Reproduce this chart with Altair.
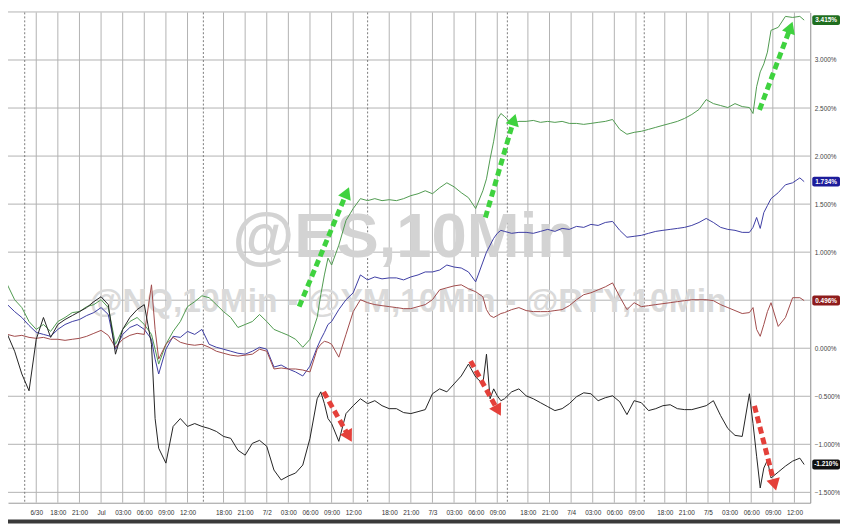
import math
import json
import altair as alt
import pandas as pd

# ---- data (hours of trading since the 6/30 label, % change) ----
hours = [-4, -3, -2, -1, 0, 1, 2, 3, 4, 5,
         6, 7, 8, 9, 10, 11, 12, 13, 14, 15,
         16, 16.5, 17, 18, 19, 20, 21, 22, 23, 24,
         25, 26, 27, 28, 29, 30, 31, 32, 33, 34,
         35, 36, 37, 38, 39, 39.5, 40, 40.5, 41, 42,
         43, 44, 45, 46, 47, 48, 49, 50, 51, 52,
         53, 54, 55, 56, 57, 58, 59, 60, 61, 62,
         62.5, 63, 63.5, 64, 64.5, 65, 66, 67, 68, 69,
         70, 71, 72, 73, 74, 75, 76, 77, 78, 79,
         80, 81, 82, 83, 84, 85, 86, 87, 88, 89,
         90, 91, 92, 93, 94, 95, 96, 97, 98, 99,
         99.5, 100, 100.5, 101, 101.5, 102, 103, 104, 105, 106,
         106.6]

nq = [0.66, 0.505, 0.423, 0.278, 0.196, 0.247, 0.175, 0.278, 0.32, 0.371,
      0.381, 0.433, 0.454, 0.505, 0.423, 0.041, 0.196, 0.278, 0.32, 0.247,
      0.144, -0.01, -0.165, 0.041, 0.175, 0.278, 0.433, 0.485, 0.546, 0.526,
      0.454, 0.381, 0.32, 0.216, 0.247, 0.278, 0.351, 0.278, 0.196, 0.165,
      0.134, 0.093, 0.01, 0.093, 0.32, 0.557, 0.763, 0.938, 0.866, 1.072,
      1.33, 1.454, 1.557, 1.536, 1.557, 1.536, 1.546, 1.536, 1.557, 1.588,
      1.608, 1.639, 1.608, 1.67, 1.722, 1.68, 1.619, 1.567, 1.454, 1.639,
      1.763, 1.969, 2.155, 2.381, 2.443, 2.412, 2.34, 2.361, 2.361, 2.371,
      2.351, 2.361, 2.351, 2.361, 2.34, 2.34, 2.33, 2.34, 2.351, 2.361,
      2.381, 2.278, 2.227, 2.247, 2.258, 2.278, 2.299, 2.32, 2.34, 2.361,
      2.392, 2.433, 2.485, 2.588, 2.546, 2.526, 2.505, 2.546, 2.515, 2.505,
      2.443, 2.722, 2.876, 2.959, 3.082, 3.309, 3.34, 3.454, 3.443, 3.454,
      3.415]

es = [0.454, 0.381, 0.32, 0.237, 0.165, 0.144, 0.124, 0.196, 0.247, 0.278,
      0.299, 0.34, 0.371, 0.423, 0.351, -0.01, 0.144, 0.216, 0.247, 0.196,
      0.093, -0.113, -0.268, -0.01, 0.124, 0.113, 0.175, 0.144, 0.196, 0.041,
      0.01, -0.01, -0.031, -0.052, -0.062, -0.031, 0.01, -0.01, -0.196, -0.175,
      -0.216, -0.247, -0.289, -0.186, 0.01, 0.093, 0.165, 0.247, 0.278, 0.402,
      0.505, 0.577, 0.763, 0.711, 0.742, 0.722, 0.732, 0.732, 0.711, 0.742,
      0.763, 0.794, 0.794, 0.814, 0.866, 0.845, 0.835, 0.794, 0.691, 0.897,
      1.0, 1.072, 1.144, 1.196, 1.227, 1.216, 1.196, 1.206, 1.206, 1.196,
      1.216, 1.237, 1.216, 1.247, 1.237, 1.268, 1.258, 1.289, 1.278, 1.309,
      1.32, 1.227, 1.155, 1.165, 1.175, 1.196, 1.216, 1.227, 1.237, 1.247,
      1.258, 1.278, 1.309, 1.351, 1.309, 1.258, 1.237, 1.227, 1.206, 1.206,
      1.258, 1.361, 1.247, 1.412, 1.485, 1.557, 1.619, 1.701, 1.722, 1.773,
      1.734]

ym = [0.144, 0.124, 0.134, 0.113, 0.103, 0.113, 0.093, 0.093, 0.082, 0.093,
      0.103, 0.124, 0.155, 0.186, 0.134, 0.01, 0.093, 0.134, 0.155, 0.144,
      0.66, 0.196, -0.113, 0.041, 0.113, 0.062, 0.041, 0.031, 0.041, 0.01,
      -0.031, -0.052, -0.072, -0.082, -0.072, -0.062, -0.01, -0.031, -0.216, -0.206,
      -0.216, -0.216, -0.227, -0.247, -0.01, 0.041, 0.072, 0.062, 0.041, -0.093,
      0.144, 0.381, 0.505, 0.474, 0.454, 0.443, 0.433, 0.423, 0.412, 0.412,
      0.433, 0.454, 0.505, 0.608, 0.629, 0.649, 0.66, 0.619, 0.588, 0.536,
      0.402, 0.34, 0.32, 0.34, 0.361, 0.371, 0.402, 0.423, 0.392, 0.381,
      0.381, 0.381, 0.392, 0.402, 0.443, 0.505, 0.557, 0.577, 0.608, 0.639,
      0.68, 0.536, 0.402, 0.474, 0.433, 0.443, 0.454, 0.464, 0.474, 0.485,
      0.495, 0.505, 0.505, 0.505, 0.495, 0.454, 0.423, 0.392, 0.361, 0.371,
      0.423, 0.196, 0.124, 0.247, 0.381, 0.474, 0.227, 0.32, 0.526, 0.526,
      0.496]

rty = [0.144, -0.031, -0.268, -0.443, 0.093, 0.32, 0.113, 0.247, 0.299, 0.34,
       0.381, 0.423, 0.485, 0.536, 0.454, -0.062, 0.196, 0.32, 0.402, 0.454,
       0.041, -0.732, -1.041, -1.196, -0.814, -0.732, -0.814, -0.784, -0.814, -0.835,
       -0.866, -0.918, -0.938, -1.062, -1.113, -0.99, -0.959, -1.021, -1.268, -1.371,
       -1.33, -1.299, -1.216, -0.938, -0.526, -0.454, -0.577, -0.732, -0.784, -0.969,
       -0.68, -0.598, -0.526, -0.577, -0.546, -0.598, -0.629, -0.629, -0.67, -0.68,
       -0.66, -0.639, -0.474, -0.423, -0.454, -0.371, -0.289, -0.165, -0.299, -0.371,
       -0.062, -0.526, -0.423, -0.495, -0.546, -0.526, -0.454, -0.423, -0.495, -0.526,
       -0.567, -0.608, -0.649, -0.629, -0.577, -0.505, -0.464, -0.474, -0.546, -0.515,
       -0.495, -0.557, -0.691, -0.546, -0.567, -0.649, -0.629, -0.598, -0.588, -0.629,
       -0.639, -0.639, -0.619, -0.598, -0.546, -0.701, -0.835, -0.907, -0.918, -0.474,
       -0.784, -1.124, -1.454, -1.247, -1.165, -1.351, -1.289, -1.227, -1.175, -1.144,
       -1.21]

tick_hours = [0, 3, 6, 9, 12, 15, 18, 21, 26, 29, 32, 35, 38, 41, 44,
              49, 52, 55, 58, 61, 64, 68.25, 71.25, 74.25, 77.25, 80.25, 83.25,
              87.25, 90.25, 93.25, 96.25, 99.25, 102.25, 105.25]
tick_labels = ["6/30", "18:00", "21:00", "Jul", "03:00", "06:00", "09:00", "12:00",
               "18:00", "21:00", "7/2", "03:00", "06:00", "09:00", "12:00",
               "18:00", "21:00", "7/3", "03:00", "06:00", "09:00",
               "18:00", "21:00", "7/4", "03:00", "06:00", "09:00",
               "18:00", "21:00", "7/5", "03:00", "06:00", "09:00", "12:00"]
session_marks = [-1.6, 23.2, 46.0, 65.4, 84.4]
grid_levels = [-1.5, -1.0, -0.5, 0.0, 0.5, 1.0, 1.5, 2.0, 2.5, 3.0, 3.5]

series_names = ["NQ", "ES", "YM", "RTY"]
series_values = [nq, es, ym, rty]
series_colors = ["#4f9a4f", "#3d3da3", "#a04a4a", "#222222"]
tag_colors = ["#1f6e1f", "#1c1c9a", "#8e1c1c", "#111111"]

# dashed annotation arrows (start hour, start %, end hour, end %)
up_t0 = [36.5, 62.35, 100.4]
up_v0 = [0.433, 1.36, 2.48]
up_t1 = [43.1, 66.3, 104.7]
up_v1 = [1.62, 2.38, 3.34]
down_t0 = [39.9, 60.3, 99.7]
down_v0 = [-0.454, -0.134, -0.60]
down_t1 = [43.4, 64.1, 102.5]
down_v1 = [-0.92, -0.65, -1.42]

watermark_main = "@ES,10Min"
watermark_sub = "@NQ,10Min - @YM,10Min - @RTY,10Min"

# ---- layout ----
X_DOMAIN = [-3.92, 107.45]
Y_DOMAIN = [-1.608, 3.495]
W, H = 810, 495
px_per_t = W / (X_DOMAIN[1] - X_DOMAIN[0])
px_per_v = H / (Y_DOMAIN[1] - Y_DOMAIN[0])

x_scale = alt.Scale(domain=X_DOMAIN, nice=False, zero=False)
y_scale = alt.Scale(domain=Y_DOMAIN, nice=False, zero=False)

FONT = "Liberation Sans"
GRID = "#b2b2b2"

rows = []
for name, vals in zip(series_names, series_values):
    for t, v in zip(hours, vals):
        rows.append({"t": t, "v": v, "series": name})
df = pd.DataFrame(rows)

label_expr = "{}[indexof({}, datum.value)]".format(json.dumps(tick_labels), json.dumps(tick_hours))

x_axis = alt.Axis(values=tick_hours, labelExpr=label_expr, grid=False,
                  ticks=False, labelFontSize=6.5, labelColor="#333333",
                  labelFont=FONT, labelPadding=7, domain=True, domainColor="#999999",
                  title=None, labelOverlap=False, labelFlush=False)
y_axis = alt.Axis(orient="right", values=grid_levels,
                  labelExpr="format(datum.value, '.3f') + '%'", grid=False,
                  ticks=False, labelFontSize=6.5, labelColor="#444444",
                  labelFont=FONT, labelPadding=4, domain=True, domainColor="#8c8c8c",
                  title=None, labelOverlap=False, labelFlush=False)


def X(field):
    return alt.X(field, scale=x_scale, axis=x_axis)


def Y(field):
    return alt.Y(field, scale=y_scale, axis=y_axis)


vgrid = alt.Chart(pd.DataFrame({"t": tick_hours})).mark_rule(
    color=GRID, strokeWidth=1
).encode(x=X("t:Q"))
hgrid = alt.Chart(pd.DataFrame({"v": grid_levels})).mark_rule(
    color=GRID, strokeWidth=1
).encode(y=Y("v:Q"))

lines = alt.Chart(df).mark_line(strokeWidth=1).encode(
    x=X("t:Q"),
    y=Y("v:Q"),
    color=alt.Color("series:N", scale=alt.Scale(domain=series_names, range=series_colors), legend=None),
)

sessions = alt.Chart(pd.DataFrame({"t": session_marks})).mark_rule(
    strokeDash=[2, 2], color="#7a7a7a", strokeWidth=1
).encode(x=X("t:Q"))

wm1 = alt.Chart(pd.DataFrame({"label": [watermark_main]})).mark_text(
    fontSize=64, fontWeight="bold", color="#d3d3d3", font=FONT, align="center", baseline="alphabetic"
).encode(x=alt.value(400), y=alt.value(247), text="label:N")
wm2 = alt.Chart(pd.DataFrame({"label": [watermark_sub]})).mark_text(
    fontSize=34, fontWeight="bold", color="#dadada", font=FONT, align="center", baseline="alphabetic"
).encode(x=alt.value(404), y=alt.value(302), text="label:N")


def arrow_layers(t0, v0, t1, v1, color):
    seg = []
    heads = []
    for i in range(len(t0)):
        seg.append({"id": i, "t": t0[i], "v": v0[i]})
        seg.append({"id": i, "t": t1[i], "v": v1[i]})
        ang = math.degrees(math.atan2((t1[i] - t0[i]) * px_per_t, (v1[i] - v0[i]) * px_per_v)) % 360
        heads.append({"t": t1[i], "v": v1[i], "ang": ang})
    body = alt.Chart(pd.DataFrame(seg)).mark_line(
        strokeDash=[7, 4], strokeWidth=5, color=color
    ).encode(x=X("t:Q"), y=Y("v:Q"), detail="id:N")
    head = alt.Chart(pd.DataFrame(heads)).mark_point(
        shape="triangle-up", filled=True, size=190, color=color, opacity=1
    ).encode(x=X("t:Q"), y=Y("v:Q"), angle=alt.Angle("ang:Q", scale=None))
    return [body, head]


half = 5 / px_per_v
tag_rows = []
for name, vals, col in zip(series_names, series_values, tag_colors):
    last = vals[-1]
    tag_rows.append({"series": name, "v": last, "hi": last + half, "lo": last - half,
                     "label": "{:.3f}%".format(last), "fill": col})
tags_df = pd.DataFrame(tag_rows)
tag_box = alt.Chart(tags_df).mark_rect(cornerRadius=2).encode(
    x=alt.value(812), x2=alt.value(840),
    y=Y("hi:Q"), y2="lo:Q",
    fill=alt.Fill("fill:N", scale=None),
)
tag_text = alt.Chart(tags_df).mark_text(color="white", fontSize=6.5, fontWeight="bold", font=FONT).encode(
    x=alt.value(826), y=Y("v:Q"), text="label:N"
)

strip = alt.Chart(pd.DataFrame({"k": [0]})).mark_rect(color="#3a3a3a").encode(
    x=alt.value(-8), x2=alt.value(840), y=alt.value(512), y2=alt.value(516)
)

chart = alt.layer(
    vgrid, hgrid, sessions, wm1, wm2, lines,
    *arrow_layers(up_t0, up_v0, up_t1, up_v1, "#3fd23f"),
    *arrow_layers(down_t0, down_v0, down_t1, down_v1, "#e4403a"),
    tag_box, tag_text, strip,
).properties(
    width=W, height=H,
    autosize=alt.AutoSizeParams(type="none"),
    padding={"left": 0, "top": 2, "right": 30, "bottom": 19},
    background="white",
).configure_view(stroke=None)

chart.save("out.html", embed_options={"renderer": "svg", "actions": False})
